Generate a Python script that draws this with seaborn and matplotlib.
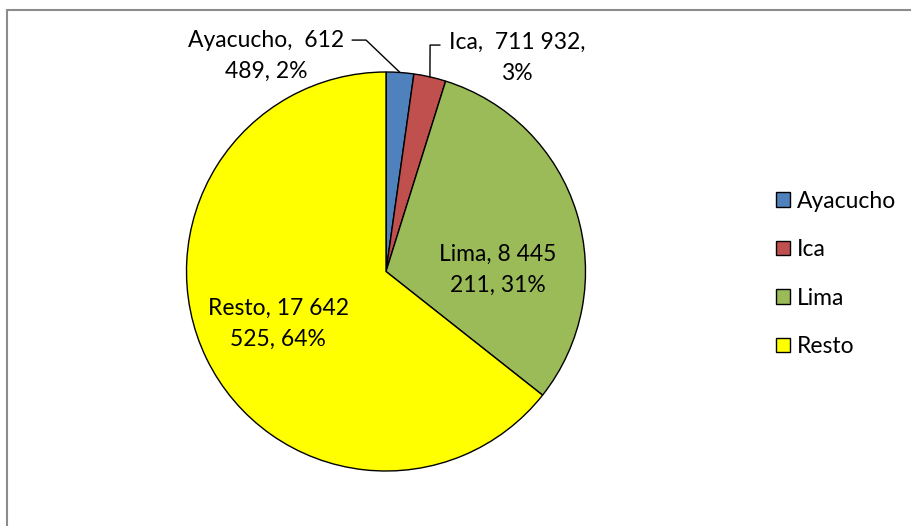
import numpy as np
import matplotlib
matplotlib.use("Agg")
import matplotlib.pyplot as plt
import seaborn as sns
from matplotlib.lines import Line2D

regions = ["Ayacucho", "Ica", "Lima", "Resto"]
population = [612489, 711932, 8445211, 17642525]
colors = ["#4F81BD", "#C0504D", "#9BBB59", "#FFFF00"]


def fmt_num(v):
    return f"{v:,}".replace(",", " ")


sns.set_style("white")
plt.rcParams["font.family"] = ["Lato", "DejaVu Sans"]
plt.rcParams["text.color"] = "black"

fig = plt.figure(figsize=(9.11, 5.26), dpi=100)
ax = fig.add_axes([186.5 / 911, 55 / 526, 399 / 911, 399 / 526])

wedges, _ = ax.pie(population, colors=colors, startangle=90, counterclock=False,
                   radius=1, wedgeprops=dict(edgecolor="black", linewidth=1.0))
ax.set_xlim(-1, 1)
ax.set_ylim(-1, 1)
ax.set_aspect("equal")
ax.axis("off")

total = sum(population)
pcts = [round(100 * v / total) for v in population]

fs = 16.5
ls = 1.6
# labels inside the big slices
ax.text(0.561, 0.0075, f"Lima, {fmt_num(population[2])[:5]}\n{fmt_num(population[2])[6:]}, {pcts[2]}%",
        ha="center", va="center", fontsize=fs, linespacing=ls)
ax.text(-0.541, -0.263, f"Resto, {fmt_num(population[3])[:6]}\n{fmt_num(population[3])[7:]}, {pcts[3]}%",
        ha="center", va="center", fontsize=fs, linespacing=ls)

# labels outside the small slices, with leader lines
ax.text(-0.60, 1.08, f"Ayacucho,  {fmt_num(population[0])[:3]}\n{fmt_num(population[0])[4:]}, {pcts[0]}%",
        ha="center", va="center", fontsize=fs, linespacing=ls, clip_on=False)
ax.text(0.657, 1.07, f"Ica,  {fmt_num(population[1])},\n{pcts[1]}%",
        ha="center", va="center", fontsize=fs, linespacing=ls, clip_on=False)

mid = [np.deg2rad((w.theta1 + w.theta2) / 2) for w in wedges]
ax.plot([-0.170, -0.100, np.cos(mid[0])], [1.160, 1.160, np.sin(mid[0])],
        color="black", lw=1.0, clip_on=False)
ax.plot([0.271, 0.221, np.cos(mid[1])], [1.135, 1.135, np.sin(mid[1])],
        color="black", lw=1.0, clip_on=False)

fig.legend(wedges, regions, loc="center left", bbox_to_anchor=(776 / 911, 252 / 526),
           frameon=False, fontsize=fs, borderpad=0, borderaxespad=0,
           handlelength=0.6, handleheight=0.6, handletextpad=0.3, labelspacing=1.2,
           labelcolor="black")

# chart area border (top and left visible)
fig.add_artist(Line2D([7 / 911, 1], [1 - 10 / 526, 1 - 10 / 526], color="#8c8c8c", lw=1.5))
fig.add_artist(Line2D([7 / 911, 7 / 911], [0, 1 - 10 / 526], color="#8c8c8c", lw=1.5))

fig.savefig("out.png", dpi=100)
